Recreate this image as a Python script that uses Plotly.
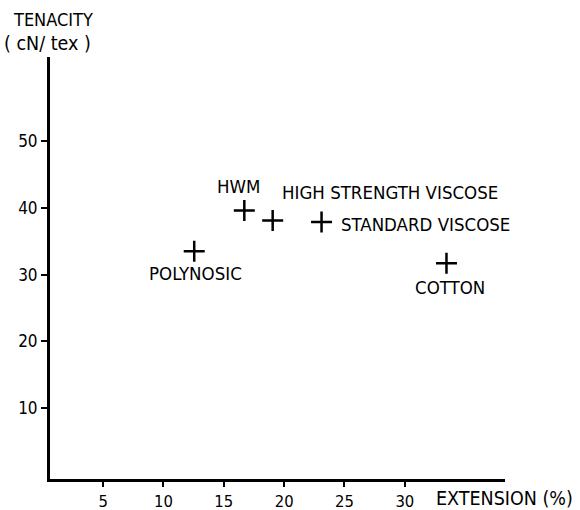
import plotly.graph_objects as go

# Data
fibres = ["HWM", "HIGH STRENGTH VISCOSE", "STANDARD VISCOSE", "POLYNOSIC", "COTTON"]
extension_pct = [16.7, 19.05, 23.1, 12.55, 33.45]
tenacity_cn_tex = [39.6, 38.1, 37.9, 33.5, 31.7]

x_ticks = [5, 10, 15, 20, 25, 30]
y_ticks = [10, 20, 30, 40, 50]

FONT = "DejaVu Sans Condensed, Liberation Sans Narrow, sans-serif"

# label placement (pixel shifts relative to each marker), style only
label_style = {
    "HWM": dict(xanchor="center", xshift=-6, yshift=24),
    "HIGH STRENGTH VISCOSE": dict(xanchor="left", xshift=7, yshift=28),
    "STANDARD VISCOSE": dict(xanchor="left", xshift=17, yshift=-3),
    "POLYNOSIC": dict(xanchor="center", xshift=1, yshift=-22),
    "COTTON": dict(xanchor="center", xshift=4, yshift=-24),
}

fig = go.Figure()
fig.add_trace(go.Scatter(
    x=extension_pct, y=tenacity_cn_tex, mode="markers",
    marker=dict(symbol="cross-thin", size=15, color="black",
                line=dict(color="black", width=2.5)),
    hoverinfo="skip", showlegend=False,
))

annotations = []
for name, xv, yv in zip(fibres, extension_pct, tenacity_cn_tex):
    st = label_style[name]
    annotations.append(dict(
        x=xv, y=yv, xref="x", yref="y", text=name, showarrow=False,
        xanchor=st["xanchor"], yanchor="middle",
        xshift=st["xshift"], yshift=st["yshift"],
        font=dict(family=FONT, size=18.5, color="black"),
    ))

W, H = 580, 510
ml, mr, mt, mb = 50, 75, 57, 31
pw, ph = W - ml - mr, H - mt - mb

# axis titles (target pixel positions converted to paper coords)
titles = [
    ("TENACITY", 11, 20, 18),
    ("( cN/ tex )", 2, 43, 19.5),
    ("EXTENSION (%)", 434, 498, 19.5),
]
for text, px, py, fs in titles:
    annotations.append(dict(
        x=(px - ml) / pw, y=1 - (py - mt) / ph, xref="paper", yref="paper",
        text=text, showarrow=False, xanchor="left", yanchor="middle",
        font=dict(family=FONT, size=fs, color="black"),
    ))

fig.update_layout(
    width=W, height=H,
    margin=dict(l=ml, r=mr, t=mt, b=mb, pad=0, autoexpand=False),
    plot_bgcolor="white", paper_bgcolor="white",
    annotations=annotations,
    font=dict(family=FONT, size=17, color="black"),
)
fig.update_xaxes(
    range=[0.6, 38.3], tickvals=x_ticks, ticktext=[str(v) for v in x_ticks],
    showgrid=False, zeroline=False, showline=True, linecolor="black", linewidth=3,
    ticks="outside", ticklen=5, tickwidth=2, tickcolor="black", automargin=False,
    tickfont=dict(family=FONT, size=16.5, color="black"),
)
fig.update_yaxes(
    range=[-0.6, 62.6], tickvals=y_ticks, ticktext=[str(v) for v in y_ticks],
    showgrid=False, zeroline=False, showline=True, linecolor="black", linewidth=3,
    ticks="outside", ticklen=6, tickwidth=2, tickcolor="black", automargin=False,
    tickfont=dict(family=FONT, size=17, color="black"),
)

# remove the browser's default 8px page margin so the figure fills the window
fig.write_html(
    "out.html",
    config={"displayModeBar": False},
    post_script="document.body.style.margin='0';document.body.style.overflow='hidden';",
)
